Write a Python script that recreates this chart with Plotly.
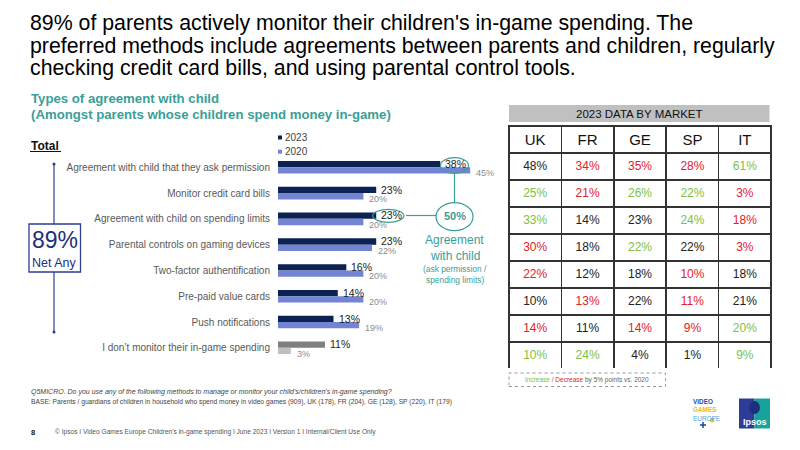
import plotly.graph_objects as go

# ---------------- data ----------------
categories = [
    "Agreement with child that they ask permission",
    "Monitor credit card bills",
    "Agreement with child on spending limits",
    "Parental controls on gaming devices",
    "Two-factor authentification",
    "Pre-paid value cards",
    "Push notifications",
    "I don\u2019t monitor their in-game spending",
]
v2023 = [38, 23, 23, 23, 16, 14, 13, 11]
v2020 = [45, 20, 20, 22, 20, 20, 19, 3]

markets = ["UK", "FR", "GE", "SP", "IT"]
uk = [48, 25, 33, 30, 22, 10, 14, 10]
fr = [34, 21, 14, 18, 12, 13, 11, 24]
ge = [35, 26, 23, 22, 18, 22, 14, 4]
sp = [28, 22, 24, 22, 10, 11, 9, 1]
it = [61, 3, 18, 3, 18, 21, 20, 9]
# +1 increase, -1 decrease by 5pts vs 2020, 0 no significant change
uk_chg = [0, 1, 1, -1, -1, 0, -1, 1]
fr_chg = [-1, -1, 0, 0, 0, -1, 0, 1]
ge_chg = [-1, 1, 0, 1, 0, 0, -1, 0]
sp_chg = [-1, 1, 1, 0, -1, -1, -1, 0]
it_chg = [1, -1, -1, -1, 0, 0, 1, 1]

net_any = 89
agreement_total = 50

# ---------------- style ----------------
FONT = "Liberation Sans, Arial, sans-serif"
NAVY = "#0b2253"
BLUE = "#7484d4"
GREY23 = "#7f7f7f"
GREY20 = "#bfbfbf"
TEAL = "#3a9e98"
BOXNAVY = "#2e3d8f"
GREEN = "#7cc242"
RED = "#e3202a"
BLACK = "#222222"

W, H = 800, 450
def px(x): return x / W
def py(y): return 1 - y / H

n = len(categories)
c2023 = [NAVY] * (n - 1) + [GREY23]
c2020 = [BLUE] * (n - 1) + [GREY20]

fig = go.Figure()
fig.add_bar(y=categories, x=v2023, orientation="h", marker=dict(color=c2023, line=dict(width=0)),
            name="2023", showlegend=False, hoverinfo="x+y")
fig.add_bar(y=categories, x=v2020, orientation="h", marker=dict(color=c2020, line=dict(width=0)),
            name="2020", showlegend=False, hoverinfo="x+y")

annotations = []
shapes = []

# value labels
for cat, a, b in zip(categories, v2023, v2020):
    annotations.append(dict(x=a, y=cat, xref="x", yref="y", text=f"{a}%", showarrow=False,
                            xanchor="left", yanchor="middle", xshift=3, yshift=3.5,
                            font=dict(size=10.5, color=BLACK, family=FONT)))
    annotations.append(dict(x=b, y=cat, xref="x", yref="y", text=f"{b}%", showarrow=False,
                            xanchor="left", yanchor="middle", xshift=4, yshift=-6,
                            font=dict(size=9, color="#8c8c8c", family=FONT)))

# table
def colors(chg):
    return [GREEN if c > 0 else RED if c < 0 else BLACK for c in chg]

cols = [uk, fr, ge, sp, it]
chgs = [uk_chg, fr_chg, ge_chg, sp_chg, it_chg]
fig.add_trace(go.Table(
    domain=dict(x=[px(509), px(771)], y=[py(369), py(126)]),
    columnwidth=[1] * 5,
    header=dict(values=markets, height=27, align="center",
                font=dict(size=15, color="#111111", family=FONT),
                fill_color="white", line=dict(color="#333333", width=1.5)),
    cells=dict(values=[[f"{v}%" for v in c] for c in cols], height=27, align="center",
               font=dict(size=12, color=[colors(c) for c in chgs], family=FONT),
               fill_color="white", line=dict(color="#333333", width=1.5)),
))

# ---- text annotations ----
def text(x, y, t, size, color="#000", xanchor="left", bold=False, italic=False, yanchor="middle"):
    if bold:
        t = f"<b>{t}</b>"
    if italic:
        t = f"<i>{t}</i>"
    annotations.append(dict(x=px(x), y=py(y), xref="paper", yref="paper", text=t, showarrow=False,
                            xanchor=xanchor, yanchor=yanchor,
                            font=dict(size=size, color=color, family=FONT)))

text(28, 23, "89% of parents actively monitor their children's in-game spending. The", 21.3)
text(28, 45.5, "preferred methods include agreements between parents and children, regularly", 21.3)
text(28, 68, "checking credit card bills, and using parental control tools.", 21.3)

text(29, 99, "Types of agreement with child", 13.2, TEAL, bold=True)
text(29, 114.5, "(Amongst parents whose children spend money in-game)", 13.2, TEAL, bold=True)
text(29, 146, "Total", 12, "#111", bold=True)
shapes.append(dict(type="line", xref="paper", yref="paper", x0=px(30), x1=px(61), y0=py(151.5), y1=py(151.5),
                   line=dict(color="#111", width=1)))

# legend
for yy, col, lab in [(137.5, NAVY, "2023"), (151.7, BLUE, "2020")]:
    shapes.append(dict(type="rect", xref="paper", yref="paper", x0=px(278), x1=px(282),
                       y0=py(yy + 2), y1=py(yy - 2), fillcolor=col, line=dict(width=0)))
    text(283, yy, lab, 10, "#444")

# net any box and vertical bracket
shapes.append(dict(type="line", xref="paper", yref="paper", x0=px(54), x1=px(54), y0=py(164), y1=py(332),
                   line=dict(color=BOXNAVY, width=1.2)))
for yy in (164, 332):
    shapes.append(dict(type="circle", xref="paper", yref="paper", x0=px(52.5), x1=px(55.5),
                       y0=py(yy + 1.5), y1=py(yy - 1.5), fillcolor=BOXNAVY, line=dict(width=0)))
shapes.append(dict(type="rect", xref="paper", yref="paper", x0=px(29), x1=px(80.5), y0=py(272), y1=py(224),
                   fillcolor="white", line=dict(color=BOXNAVY, width=1.3)))
text(54.8, 240, f"{net_any}%", 23, "#1f2f7a", xanchor="center")
text(54.8, 263, "Net Any", 12.5, "#1f2f7a", xanchor="center")

# teal callouts
shapes.append(dict(type="circle", xref="paper", yref="paper", x0=px(440.5), x1=px(468.5), y0=py(173.3), y1=py(157.7),
                   line=dict(color=TEAL, width=1.2)))
shapes.append(dict(type="circle", xref="paper", yref="paper", x0=px(372.7), x1=px(404), y0=py(222.3), y1=py(209.3),
                   line=dict(color=TEAL, width=1.2)))
shapes.append(dict(type="line", xref="paper", yref="paper", x0=px(454.5), x1=px(454.5), y0=py(173.3), y1=py(202.7),
                   line=dict(color=TEAL, width=1.2)))
shapes.append(dict(type="line", xref="paper", yref="paper", x0=px(406), x1=px(436), y0=py(215.5), y1=py(215.5),
                   line=dict(color=TEAL, width=1.2)))
shapes.append(dict(type="circle", xref="paper", yref="paper", x0=px(436), x1=px(473), y0=py(230.7), y1=py(202.7),
                   fillcolor="white", line=dict(color=TEAL, width=1.2)))
text(454.5, 216.5, f"{agreement_total}%", 11, TEAL, xanchor="center", bold=True)
text(454.5, 240, "Agreement", 12, TEAL, xanchor="center")
text(454.5, 255.5, "with child", 12, TEAL, xanchor="center")
text(454.5, 268.5, "(ask permission /", 8.4, TEAL, xanchor="center")
text(454.5, 279.5, "spending limits)", 8.4, TEAL, xanchor="center")

# table title bar
shapes.append(dict(type="rect", xref="paper", yref="paper", x0=px(509), x1=px(769.5), y0=py(122), y1=py(105),
                   fillcolor="#c0c0c0", line=dict(width=0)))
text(639, 113.5, "2023 DATA BY MARKET", 11.5, "#111", xanchor="center")

# table note
shapes.append(dict(type="rect", xref="paper", yref="paper", x0=px(509), x1=px(665.5), y0=py(386.5), y1=py(373),
                   line=dict(color="#999", width=1, dash="dot")))
text(587, 380, f"<span style='color:{GREEN}'>Increase</span> / <span style='color:{RED}'>Decrease</span> by 5% points vs. 2020",
     6.5, "#666", xanchor="center")

# footnotes
text(29, 392, "Q5MICRO. Do you use any of the following methods to manage or monitor your child's/children's in-game spending?",
     7.0, "#444", italic=True)
text(29, 402, "BASE: Parents / guardians of children in household who spend money in video games (909), UK (178), FR (204), GE (128), SP (220), IT (179)",
     6.7, "#444")
text(28.5, 432, "8", 7.5, "#111", bold=True)
text(53, 432, "\u00a9 Ipsos I Video Games Europe Children's in-game spending I June 2023 I Version 1 I Internal/Client Use Only",
     6.6, "#555")

# logos
annotations.append(dict(x=px(691), y=py(396), xref="paper", yref="paper", showarrow=False,
                        xanchor="left", yanchor="top", align="left",
                        text="<b><span style='color:#1f4e9e'>VIDEO</span><br>"
                             "<span style='color:#f2b80f'>GAMES</span></b><br>"
                             "<span style='color:#4a9fdc'>EUROPE</span>",
                        font=dict(size=6.4, family=FONT)))
# plus sign and dot of the logo
shapes.append(dict(type="line", xref="paper", yref="paper", x0=px(700), x1=px(706), y0=py(425), y1=py(425),
                   line=dict(color="#1f4e9e", width=1.6)))
shapes.append(dict(type="line", xref="paper", yref="paper", x0=px(703), x1=px(703), y0=py(422), y1=py(428),
                   line=dict(color="#1f4e9e", width=1.6)))
shapes.append(dict(type="circle", xref="paper", yref="paper", x0=px(710), x1=px(714.5), y0=py(422.5), y1=py(418),
                   fillcolor="#f2c21a", line=dict(width=0)))
shapes.append(dict(type="rect", xref="paper", yref="paper", x0=px(739), x1=px(754.5), y0=py(428.5), y1=py(398.5),
                   fillcolor="#2d3c96", line=dict(width=0)))
shapes.append(dict(type="rect", xref="paper", yref="paper", x0=px(754.5), x1=px(770), y0=py(428.5), y1=py(398.5),
                   fillcolor="#17a39a", line=dict(width=0)))
shapes.append(dict(type="circle", xref="paper", yref="paper", x0=px(749), x1=px(760), y0=py(414), y1=py(401),
                   fillcolor="#1f2f80", line=dict(width=0)))
text(754.5, 421.5, "<b>Ipsos</b>", 9, "white", xanchor="center")

fig.update_layout(
    width=W, height=H,
    margin=dict(l=0, r=0, t=0, b=0),
    paper_bgcolor="white", plot_bgcolor="white",
    barmode="group", bargap=0.51, bargroupgap=0,
    xaxis=dict(domain=[px(278), px(491.5)], range=[0, 50], visible=False, fixedrange=True),
    yaxis=dict(domain=[py(360.7), py(154.3)], autorange="reversed", showline=False, showgrid=False,
               zeroline=False, ticks="", automargin=False, ticklabelstandoff=7,
               tickfont=dict(size=10, color="#595959", family=FONT)),
    annotations=annotations,
    shapes=shapes,
    font=dict(family=FONT),
)

fig.write_html("out.html")
